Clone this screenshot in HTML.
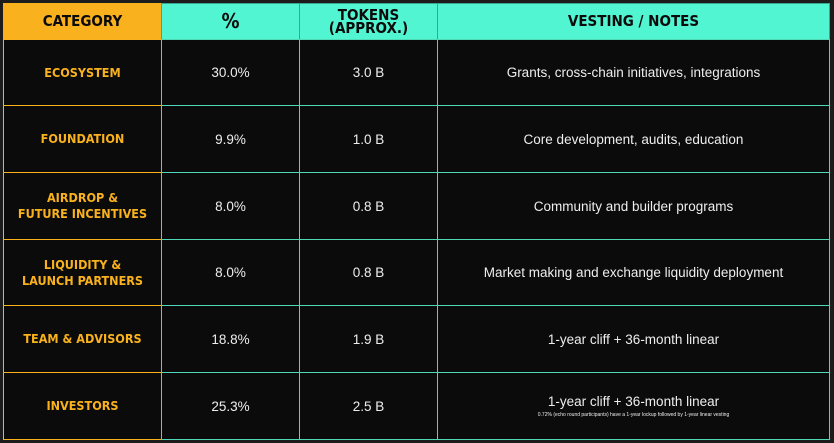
<!DOCTYPE html>
<html><head><meta charset="utf-8"><style>
body{margin:0;width:834px;height:443px;background:#1c1c1c;overflow:hidden;font-family:"Liberation Sans",sans-serif}
.c{position:absolute;box-sizing:border-box;display:flex;flex-direction:column;align-items:center;justify-content:center;text-align:center;background:#0b0b0b;color:#eee;font-size:13.5px}
.h{color:#0b0b0b;font-weight:bold;font-family:"DejaVu Sans Condensed","Liberation Sans Narrow",sans-serif;font-size:15px;line-height:13px}
.cat{color:#f9b21d;font-weight:bold;font-family:"DejaVu Sans Condensed","Liberation Sans Narrow",sans-serif;font-size:12.5px;line-height:16px}
</style></head><body>
<div id="t"></div>
<script>
const categories=["ECOSYSTEM","FOUNDATION","AIRDROP &amp;<br>FUTURE INCENTIVES","LIQUIDITY &amp;<br>LAUNCH PARTNERS","TEAM &amp; ADVISORS","INVESTORS"];
const percents=["30.0%","9.9%","8.0%","8.0%","18.8%","25.3%"];
const tokens=["3.0 B","1.0 B","0.8 B","0.8 B","1.9 B","2.5 B"];
const notes=["Grants, cross-chain initiatives, integrations","Core development, audits, education","Community and builder programs","Market making and exchange liquidity deployment","1-year cliff + 36-month linear","1-year cliff + 36-month linear<div style='font-size:5px;margin-top:3px'>0.72% (echo round participants) have a 1-year lockup followed by 1-year linear vesting</div>"];
const headers=["CATEGORY","%","TOKENS<br>(APPROX.)","VESTING / NOTES"];
const xs=[3,161,299,437,829];
const ys=[3,39,105,172,239,305,372,439];
const t=document.getElementById('t');
function cell(c,r,html,cls){
 const d=document.createElement('div');
 d.className='c '+cls;
 const orange=c===0;
 d.style.left=xs[c]+'px';d.style.top=ys[r]+'px';
 d.style.width=(xs[c+1]-xs[c]+1)+'px';d.style.height=(ys[r+1]-ys[r]+1)+'px';
 d.style.border='1.5px solid '+(orange?'#f9b21d':'#4fd8b6');
 if(r===0){d.style.background=orange?'#f9b21d':'#52f5d2';d.style.borderColor=orange?'#f9b21d':'#3aa891';}
 if(r===0&&c===1)d.style.fontSize='20px';
 d.innerHTML=html;
 
 
 t.appendChild(d);
}
headers.forEach((h,c)=>cell(c,0,h,'h'));
categories.forEach((v,i)=>{cell(0,i+1,v,'cat');cell(1,i+1,percents[i],'');cell(2,i+1,tokens[i],'');cell(3,i+1,notes[i],'');});
</script>
</body></html>
